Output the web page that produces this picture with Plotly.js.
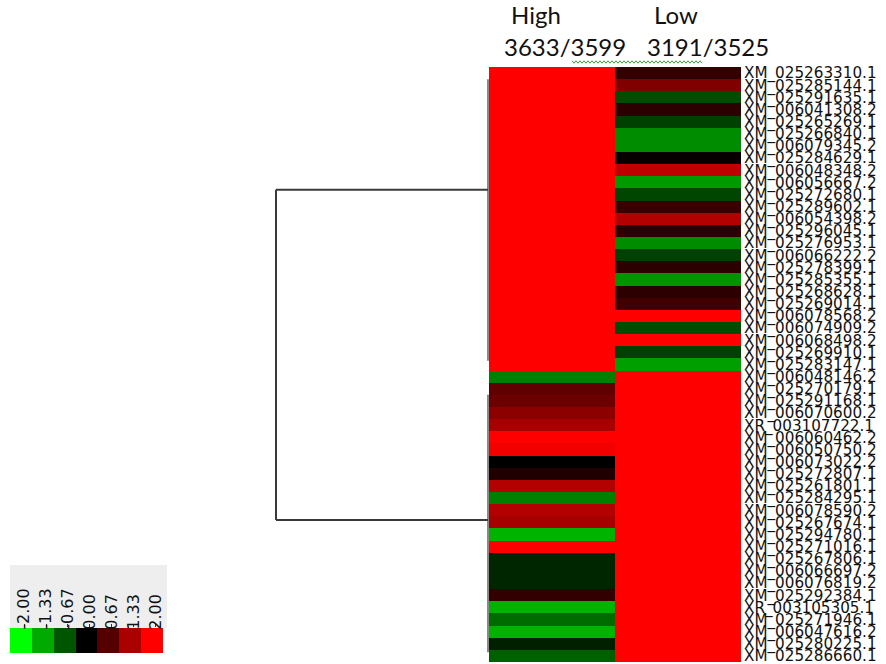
<!DOCTYPE html>
<html>
<head>
<meta charset="utf-8">
<script src="https://cdn.plot.ly/plotly-3.0.1.min.js"></script>
<style>html,body{margin:0;padding:0;background:#fff;}#chart{width:886px;height:664px;}</style>
</head>
<body>
<div id="chart"></div>
<script>
// ---- data ----
const genes = [
  "XM_025263310.1","XM_025285144.1","XM_025291635.1","XM_006041308.2","XM_025265269.1",
  "XM_025266840.1","XM_006079345.2","XM_025284629.1","XM_006048348.2","XM_006056667.2",
  "XM_025272680.1","XM_025289602.1","XM_006054398.2","XM_025296045.1","XM_025276953.1",
  "XM_006066222.2","XM_025278399.1","XM_025285355.1","XM_025268628.1","XM_025269014.1",
  "XM_006078568.2","XM_006074909.2","XM_006068498.2","XM_025269910.1","XM_025283147.1",
  "XM_006048146.2","XM_025270179.1","XM_025291168.1","XM_006070600.2","XR_003107722.1",
  "XM_006060462.2","XM_006050750.2","XM_006073022.2","XM_025272807.1","XM_025261801.1",
  "XM_025284295.1","XM_006078590.2","XM_025267674.1","XM_025294780.1","XM_025271016.1",
  "XM_025267806.1","XM_006066697.2","XM_006076819.2","XM_025292384.1","XR_003105305.1",
  "XM_025271946.1","XM_006047616.2","XM_025280225.1","XM_025286660.1"
];
const groups = ["High", "Low"];
const groupCounts = ["3633/3599", "3191/3525"];
const highValues = [
  2,2,2,2,2, 2,2,2,2,2, 2,2,2,2,2, 2,2,2,2,2, 2,2,2,2,2,
  -1.0, 0.75,0.85,1.1,1.3, 2,1.9,0.0,0.25,1.4, -1.0,1.4,1.3,-1.4,2,
  -0.3,-0.3,-0.3,0.4,-1.4, -0.85,-1.4,-0.25,-0.75
];
const lowValues = [
  0.4,1.0,-0.6,0.35,-0.5, -1.1,-1.1,0.05,1.5,-1.2, -0.55,0.45,1.4,0.35,-1.1,
  -0.5,0.35,-1.15,0.35,0.5, 2,-0.6,2,-0.5,-1.25,
  2,2,2,2,2, 2,2,2,2,2, 2,2,2,2,2, 2,2,2,2,2, 2,2,2,2
];
const legendValues = [-2, -1.33, -0.67, 0, 0.67, 1.33, 2];
const legendLabels = ["-2.00", "-1.33", "-0.67", "0.00", "0.67", "1.33", "2.00"];
// dendrogram: two clusters (first/last row index of each) joined at the root
const clusterRows = [[0, 24], [26, 48]];
const rootJoinRows = [9.6, 36.8];

// ---- layout helpers (pixel -> paper) ----
const W = 886, H = 664;
const px = x => x / W;
const py = y => 1 - y / H;

const colorscale = [[0, "#00ff00"], [0.5, "#000000"], [1, "#ff0000"]];

const z = genes.map((g, i) => [highValues[i], lowValues[i]]);

const traces = [
  {
    type: "heatmap", x: groups, y: genes, z: z,
    colorscale: colorscale, zmin: -2, zmax: 2, showscale: false,
    xaxis: "x", yaxis: "y", hoverinfo: "x+y+z"
  },
  {
    type: "heatmap", x: legendValues.map((v, i) => i), y: [0], z: [legendValues],
    colorscale: colorscale, zmin: -2, zmax: 2, showscale: false,
    xaxis: "x2", yaxis: "y2", hoverinfo: "z"
  }
];

const shapes = [];
// legend label background
shapes.push({type: "rect", xref: "paper", yref: "paper", x0: px(10), x1: px(167), y0: py(628), y1: py(565),
  fillcolor: "#eeeeee", line: {width: 0}, layer: "below"});
// dendrogram
const leafX = px(488), rootX = px(276);
const dcol = "#3a3a3a";
clusterRows.forEach(([a, b]) => {
  shapes.push({type: "line", xref: "paper", yref: "y", x0: leafX, x1: leafX, y0: a + 0.5, y1: b - 0.3,
    line: {color: dcol, width: 1.2}});
});
rootJoinRows.forEach(r => {
  shapes.push({type: "line", xref: "paper", yref: "y", x0: rootX, x1: leafX, y0: r, y1: r,
    line: {color: dcol, width: 2}});
});
shapes.push({type: "line", xref: "paper", yref: "y", x0: rootX, x1: rootX, y0: rootJoinRows[0], y1: rootJoinRows[1],
  line: {color: dcol, width: 2}});
// spell-check squiggle under the counts (decoration)
let sq = "";
for (let x = 572, k = 0; x <= 703; x += 2, k++) {
  const yy = 62 + (k % 2 === 0 ? -1.2 : 1.2);
  sq += (k === 0 ? "M" : "L") + px(x).toFixed(5) + "," + py(yy).toFixed(5);
}
shapes.push({type: "path", xref: "paper", yref: "paper", path: sq, line: {color: "#3f9f3f", width: 1}});

const headFont = {family: "Lato, 'Open Sans', sans-serif", size: 24, color: "#111"};
const annotations = [
  {text: groups[0], x: px(536), y: py(14), xref: "paper", yref: "paper", showarrow: false, font: headFont, xanchor: "center", yanchor: "middle", borderpad: 0},
  {text: groups[1], x: px(676), y: py(14), xref: "paper", yref: "paper", showarrow: false, font: headFont, xanchor: "center", yanchor: "middle", borderpad: 0},
  {text: groupCounts[0], x: px(565), y: py(47), xref: "paper", yref: "paper", showarrow: false, font: headFont, xanchor: "center", yanchor: "middle"},
  {text: groupCounts[1], x: px(708), y: py(47), xref: "paper", yref: "paper", showarrow: false, font: headFont, xanchor: "center", yanchor: "middle"}
];

const layout = {
  width: W, height: H,
  margin: {l: 0, r: 0, t: 0, b: 0},
  paper_bgcolor: "#ffffff", plot_bgcolor: "#ffffff",
  showlegend: false,
  xaxis: {domain: [px(489), px(741)], anchor: "y", visible: false, fixedrange: true},
  yaxis: {domain: [py(662), py(67)], anchor: "x", type: "category", autorange: "reversed",
    side: "right", showgrid: false, zeroline: false, showline: false, ticks: "",
    tickmode: "array", tickvals: genes, ticktext: genes,
    tickfont: {family: "DejaVu Sans", size: 15.2, color: "#111"}, ticklabelstandoff: 2},
  xaxis2: {domain: [px(10), px(163)], anchor: "y2", side: "top", showgrid: false, zeroline: false,
    tickvals: legendValues.map((v, i) => i + 0.15), ticktext: legendLabels, tickangle: -90,
    ticks: "outside", ticklen: 3, tickcolor: "#333", ticklabelstandoff: -9,
    tickfont: {family: "DejaVu Sans", size: 16, color: "#111"}, range: [-0.5, 6.5]},
  yaxis2: {domain: [py(653), py(628)], anchor: "x2", visible: false},
  shapes: shapes,
  annotations: annotations
};

Plotly.newPlot("chart", traces, layout, {staticPlot: true, displayModeBar: false});
</script>
</body>
</html>
